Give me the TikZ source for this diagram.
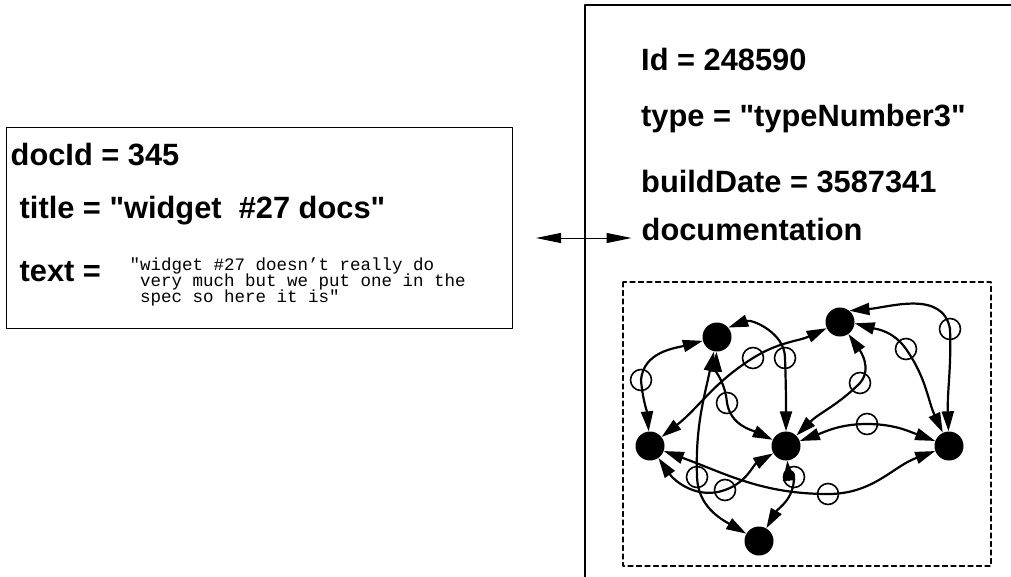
\documentclass[tikz,border=0pt]{standalone}
\usepackage{fontspec}
\setmainfont{Liberation Sans}
\setmonofont{Liberation Mono}
\usetikzlibrary{arrows.meta}

\tikzset{
  field/.style={anchor=base west,inner sep=0pt,font=\fontsize{30.8}{36}\selectfont\bfseries},
  longtext/.style={anchor=base west,inner sep=0pt,font=\fontsize{17.5}{16}\selectfont\ttfamily},
  entity/.style={circle,fill=black,inner sep=0pt,minimum size=29pt},
  rel/.style={circle,draw=black,line width=1.6pt,inner sep=0pt,minimum size=21pt},
  link/.style={<->,line width=2.2pt},
}
\newcommand{\dq}{\textquotedbl}

\begin{document}
\begin{tikzpicture}[line cap=round,line join=round,>={Triangle[length=20pt,width=12pt]},x=1pt,y=1pt]
\useasboundingbox (0,0) rectangle (1011,-576);
% document record
\draw[line width=1pt] (6.5,-127) rectangle (512,-328.5);
\node[field] (docid) at (10.5,-165) {docId = 345};
\node[field] (title) at (19.5,-218) {title = \dq widget\ \ \#27 docs\dq};
\node[field] (textlbl) at (19.5,-281) {text =};
\node[longtext] (line1) at (129.5,-270) {"widget \#27 doesn’t really do};
\node[longtext] (line2) at (129.5,-286) {\ very much but we put one in the};
\node[longtext] (line3) at (129.5,-302) {\ spec so here it is"};
% part record
\draw[line width=1.8pt,line cap=butt] (1020,-5) -- (585,-5) -- (585,-590);
\node[field] (partid) at (641,-70) {Id = 248590};
\node[field] (ptype) at (641,-126) {type = \dq typeNumber3\dq};
\node[field] (pdate) at (641,-192) {buildDate = 3587341};
\node[field] (pdoc) at (641.5,-240) {documentation};
\coordinate (docend) at (536,-238);
\draw[<->,line width=1pt,>={Triangle[length=25pt,width=10pt]}] (docend) -- ([xshift=-10pt]pdoc.west |- docend);
% the documentation graph
\draw[line width=1.3pt,dash pattern=on 5pt off 3.5pt] (623,-282) rectangle (991,-566);
\node[entity] (A) at (717,-337) {};
\node[entity] (B) at (840,-322) {};
\node[entity] (C) at (650,-446) {};
\node[entity] (D) at (786,-446) {};
\node[entity] (E) at (949,-446) {};
\node[entity] (F) at (759,-541) {};
\node[rel] (m1) at (641,-380) {};
\node[rel] (m2) at (753,-358) {};
\node[rel] (m3) at (785,-358) {};
\node[rel] (m4) at (727,-403) {};
\node[rel] (m5) at (697,-477) {};
\node[rel] (m6) at (725,-490) {};
\node[rel] (m7) at (794,-477) {};
\node[rel] (m8) at (828,-494) {};
\node[rel] (m9) at (867,-424) {};
\node[rel] (m10) at (860,-383) {};
\node[rel] (m11) at (906,-349) {};
\node[rel] (m12) at (950,-329) {};
\draw[link] (C) to[out=95,in=-85] (m1.center) to[out=85,in=195] (A);
\draw[link] (C) to[out=38,in=212] (m2.center) to[out=32,in=205] (B);
\draw[link] (A.40) to[out=20,in=90] (m3.center) to[out=-88,in=90] (D);
\draw[link] (A) to[out=-92,in=95] (m4.center) to[out=-80,in=155] (D);
\draw[link] (A) to[out=-102,in=92] (m5.center) to[out=-88,in=150] (F);
\draw[link] (C) to[out=-55,in=200] (m6.center) to[out=20,in=210] (D);
\draw[link] (D) to[out=-85,in=90] (m7.center) to[out=-90,in=60] (F);
\draw[link] (C) to[out=-20,in=180] (m8.center) to[out=0,in=200] (E);
\draw[link] (D) to[out=20,in=180] (m9.center) to[out=0,in=160] (E);
\draw[link] (D) to[out=45,in=225] (m10.center) to[out=50,in=-55] (B);
\draw[link] (B.-5) to[out=-15,in=125] (m11.center) to[out=-55,in=115] (E);
\draw[link] (B.50) to[out=5,in=100] (m12.center) to[out=-88,in=92] (E);
\end{tikzpicture}
\end{document}
